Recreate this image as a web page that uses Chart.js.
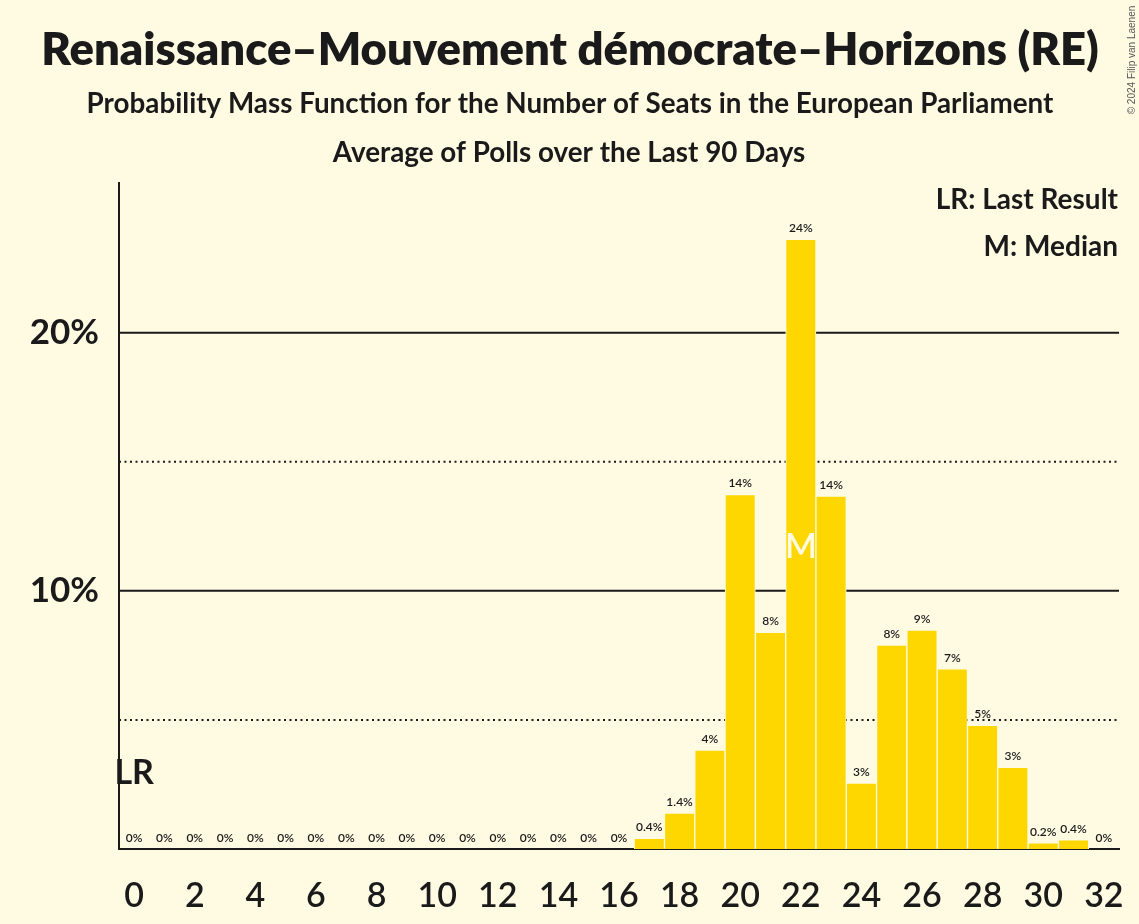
<!DOCTYPE html>
<html>
<head>
<meta charset="utf-8">
<title>Renaissance–Mouvement démocrate–Horizons (RE)</title>
<script src="https://cdn.jsdelivr.net/npm/chart.js@4.4.1/dist/chart.umd.min.js"></script>
<style>
  html, body { margin: 0; padding: 0; background: #fffbe3; }
  #wrap { width: 1139px; height: 924px; position: relative; }
</style>
</head>
<body>
<div id="wrap"><canvas id="pmfChart"></canvas></div>
<script>
// Seats (x categories)
const seats = ['0', '1', '2', '3', '4', '5', '6', '7', '8', '9', '10', '11', '12', '13', '14', '15', '16',
               '17', '18', '19', '20', '21', '22', '23', '24', '25', '26', '27', '28', '29', '30', '31', '32'];

// Probability (%) for each number of seats
const probabilities = [0, 0, 0, 0, 0, 0, 0, 0, 0, 0, 0, 0, 0, 0, 0, 0, 0,
                       0.41, 1.39, 3.83, 13.73, 8.39, 23.62, 13.67, 2.55, 7.90, 8.48, 6.98, 4.79, 3.16, 0.24, 0.36, 0];

// Labels printed above the bars
const barLabels = ['0%', '0%', '0%', '0%', '0%', '0%', '0%', '0%', '0%', '0%', '0%', '0%', '0%', '0%', '0%', '0%', '0%',
                   '0.4%', '1.4%', '4%', '14%', '8%', '24%', '14%', '3%', '8%', '9%', '7%', '5%', '3%', '0.2%', '0.4%', '0%'];

// y ticks that get a label / solid line, and the dotted ones in between
const yTickLabels = [10, 20];
const yDottedLines = [5, 15];

const lastResult = '0';
const median = '22';

const BG = '#fffbe3';
const INK = '#1a1a1a';

const decorations = {
  id: 'decorations',
  beforeDraw(chart) {
    const ctx = chart.ctx;
    ctx.save();
    ctx.fillStyle = BG;
    ctx.fillRect(0, 0, chart.width, chart.height);
    ctx.restore();
  },
  beforeDatasetsDraw(chart) {
    const ctx = chart.ctx;
    const y = chart.scales.y;
    const area = chart.chartArea;
    ctx.save();
    ctx.strokeStyle = INK;
    ctx.lineWidth = 2;
    yTickLabels.forEach(v => {
      const py = y.getPixelForValue(v);
      ctx.beginPath();
      ctx.moveTo(area.left, py);
      ctx.lineTo(area.right, py);
      ctx.stroke();
    });
    ctx.setLineDash([2, 3.5]);
    yDottedLines.forEach(v => {
      const py = y.getPixelForValue(v);
      ctx.beginPath();
      ctx.moveTo(area.left, py);
      ctx.lineTo(area.right, py);
      ctx.stroke();
    });
    ctx.restore();
  },
  afterDatasetsDraw(chart) {
    const ctx = chart.ctx;
    const bars = chart.getDatasetMeta(0).data;
    ctx.save();
    ctx.textAlign = 'center';
    ctx.textBaseline = 'middle';
    ctx.fillStyle = INK;
    ctx.font = '600 12px Lato';
    bars.forEach((bar, i) => {
      ctx.fillText(barLabels[i], bar.x, bar.y - 11);
    });

    // median marker inside its bar
    const m = bars[seats.indexOf(median)];
    ctx.fillStyle = BG;
    ctx.font = '600 34px Lato';
    ctx.fillText('M', m.x, (m.y + m.base) / 2 + 3);

    // last result marker
    const lr = bars[seats.indexOf(lastResult)];
    ctx.fillStyle = INK;
    ctx.font = 'bold 34px Lato';
    ctx.fillText('LR', lr.x, lr.base - 76);
    ctx.restore();
  },
  afterDraw(chart) {
    const ctx = chart.ctx;
    ctx.save();
    ctx.fillStyle = INK;
    ctx.textAlign = 'center';
    ctx.textBaseline = 'middle';
    ctx.font = '800 45.4px Lato';
    ctx.fillText('Renaissance–Mouvement démocrate–Horizons (RE)', 570, 50);
    ctx.font = 'bold 27.8px Lato';
    ctx.fillText('Probability Mass Function for the Number of Seats in the European Parliament', 570, 104);
    ctx.fillText('Average of Polls over the Last 90 Days', 569, 153);

    ctx.textAlign = 'right';
    ctx.font = 'bold 28px Lato';
    ctx.fillText('LR: Last Result', 1118, 200);
    ctx.fillText('M: Median', 1118, 247);

    ctx.translate(1132, 60);
    ctx.rotate(-Math.PI / 2);
    ctx.textAlign = 'center';
    ctx.fillStyle = '#555';
    ctx.font = '10px "Liberation Sans"';
    ctx.fillText('© 2024 Filip van Laenen', 0, 0);
    ctx.restore();
  }
};

document.addEventListener('DOMContentLoaded', function () {
  Chart.defaults.font.family = 'Lato';
  Chart.defaults.color = INK;

  const ctx = document.getElementById('pmfChart').getContext('2d');
  new Chart(ctx, {
    type: 'bar',
    data: {
      labels: seats,
      datasets: [{
        data: probabilities,
        backgroundColor: '#ffd700',
        borderColor: BG,
        borderWidth: 1,
        barPercentage: 1,
        categoryPercentage: 1
      }]
    },
    options: {
      responsive: true,
      maintainAspectRatio: false,
      animation: false,
      layout: { padding: { top: 183, right: 20, bottom: 0, left: 0 } },
      plugins: {
        legend: { display: false },
        tooltip: { enabled: false }
      },
      scales: {
        x: {
          grid: { display: false },
          border: { display: true, color: INK, width: 2 },
          ticks: {
            autoSkip: false,
            maxRotation: 0,
            padding: 19,
            font: { size: 34, weight: '600' },
            callback: (val, i) => (i % 2 === 0 ? seats[i] : '')
          },
          afterFit: scale => {
            scale.height = 75;
            scale.paddingLeft = 0;
            scale.paddingRight = 0;
          }
        },
        y: {
          min: 0,
          max: 25.8,
          grid: { display: false },
          border: { display: true, color: INK, width: 2 },
          ticks: {
            stepSize: 5,
            padding: 12,
            font: { size: 35, weight: 'bold' },
            callback: v => (yTickLabels.includes(v) ? v + '%' : '')
          },
          afterFit: scale => { scale.width = 119; }
        }
      }
    },
    plugins: [decorations]
  });
});
</script>
</body>
</html>
